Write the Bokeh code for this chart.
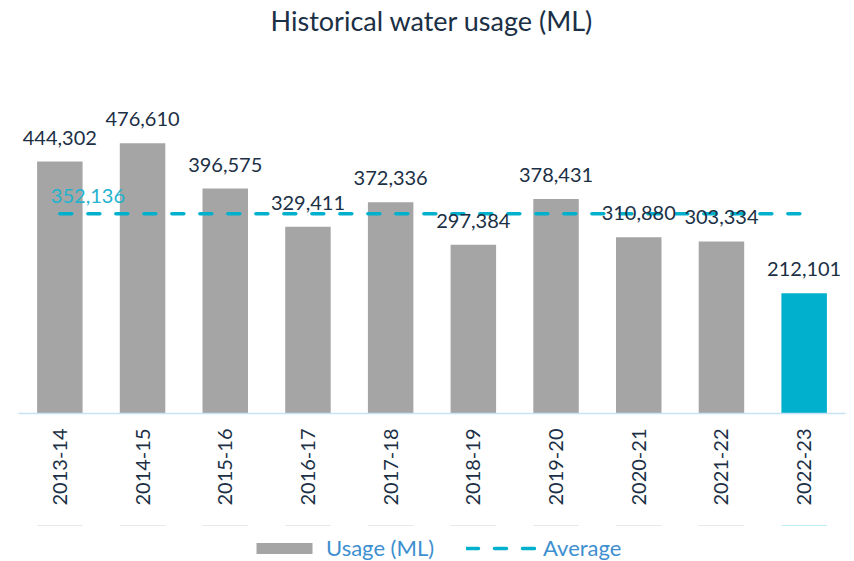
from bokeh.plotting import figure
from bokeh.layouts import column
from bokeh.models import ColumnDataSource, LabelSet, Legend, LegendItem, Range1d
from bokeh.core.properties import value
from bokeh.embed import file_html
from bokeh.resources import INLINE
import math

years = ["2013-14", "2014-15", "2015-16", "2016-17", "2017-18",
         "2018-19", "2019-20", "2020-21", "2021-22", "2022-23"]
usage = [444302, 476610, 396575, 329411, 372336, 297384, 378431, 310880, 303334, 212101]
average = 352136

GREY = "#a5a5a5"
CYAN = "#00b0cc"
NAVY = "#1b2f45"
FONT = "Lato"

colors = [GREY] * (len(years) - 1) + [CYAN]
src = ColumnDataSource(dict(
    x=years, y=usage, c=colors, lab=[f"{v:,}" for v in usage]))
avg_src = ColumnDataSource(dict(x=[years[0], years[-1]], y=[average, average]))

p = figure(x_range=years, y_range=Range1d(0, 663000),
           width=854, height=525, output_backend="svg",
           toolbar_location=None, title="Historical water usage (ML)",
           min_border_left=18, min_border_right=9, min_border_top=0,
           min_border_bottom=112)
p.title.align = "center"
p.title.text_font = FONT
p.title.text_font_size = "27px"
p.title.text_font_style = "normal"
p.title.text_color = NAVY
p.title.standoff = 2

bars = p.vbar(x="x", top="y", width=0.55, source=src, fill_color="c", line_color=None)
avg_line = p.line(x="x", y="y", source=avg_src, line_color=CYAN, line_width=3.5,
                  line_dash="12 16", line_cap="round")

labels = LabelSet(x="x", y="y", text="lab", source=src, text_align="center",
                  text_baseline="alphabetic", y_offset=17, text_font=value(FONT),
                  text_font_size="20px", text_color=NAVY)
p.add_layout(labels)

avg_lab_src = ColumnDataSource(dict(x=[years[0]], y=[average], t=[f"{average:,}"]))
avg_label = LabelSet(x="x", y="y", text="t", source=avg_lab_src, text_align="left",
                     text_baseline="alphabetic", x_offset=-9, y_offset=11,
                     text_font=value(FONT), text_font_size="20px", text_color="#1fb3cd")
p.add_layout(avg_label)

p.yaxis.visible = False
p.xgrid.visible = False
p.ygrid.visible = False
p.outline_line_color = None

ax = p.xaxis[0]
ax.major_label_orientation = math.pi / 2
ax.major_label_text_font = FONT
ax.major_label_text_font_size = "20px"
ax.major_label_text_color = NAVY
ax.major_label_standoff = 15
ax.major_tick_out = 0
ax.major_tick_in = 0
ax.major_tick_line_color = None
ax.minor_tick_line_color = None
ax.axis_line_color = "#c6e2f3"
ax.axis_line_width = 1.5

# legend strip below the chart (same series, zero-height and out of view; only the legend shows)
p2 = figure(width=854, height=36, output_backend="svg", toolbar_location=None,
            x_range=years, y_range=Range1d(-2000000, -1000000),
            min_border_left=0, min_border_right=0, min_border_top=0,
            min_border_bottom=0)
p2.axis.visible = False
p2.grid.visible = False
p2.outline_line_color = None
leg_bar = p2.vbar(x="x", bottom="y", top="y", width=0.55, source=src,
                  fill_color="c", line_color=None)
leg_line = p2.line(x="x", y="y", source=avg_src, line_color=CYAN, line_width=3.5,
                   line_dash="12 16", line_cap="round")

legend = Legend(items=[LegendItem(label="Usage (ML)", renderers=[leg_bar], index=0),
                       LegendItem(label="Average", renderers=[leg_line])],
                orientation="horizontal", location=(231, 0),
                glyph_width=70, glyph_height=14, label_standoff=7, spacing=32,
                label_text_font=FONT, label_text_font_size="22px",
                label_text_color="#3d8fcf", border_line_color=None,
                background_fill_alpha=0, padding=0, margin=0)
p2.add_layout(legend, "center")

layout = column(p, p2, spacing=0)
open("out.html", "w").write(file_html(layout, INLINE))
